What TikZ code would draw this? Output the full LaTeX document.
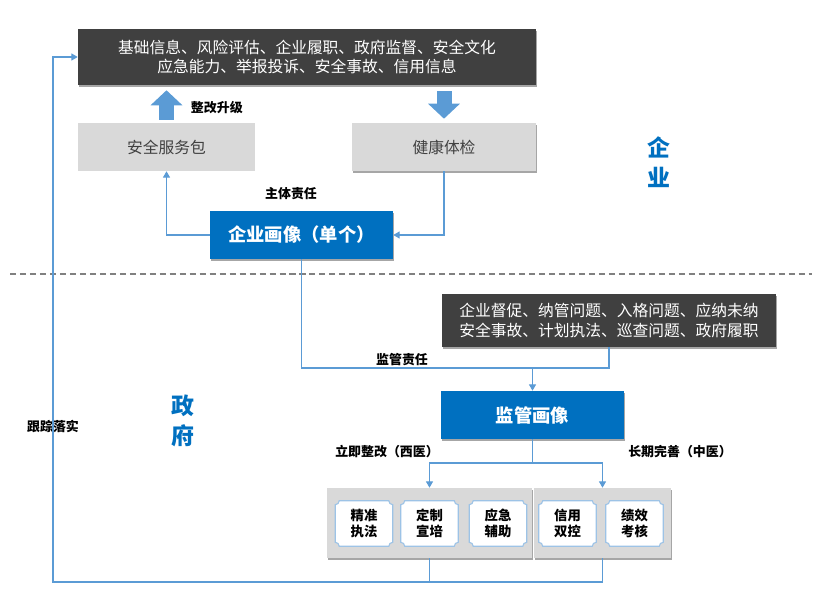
\documentclass[tikz,border=0pt]{standalone}
\usepackage{fontspec}
\setmainfont{Noto Sans CJK SC}
\usepackage{xcolor}
\usetikzlibrary{positioning, arrows.meta, shadows, backgrounds}

\definecolor{boxdark}{HTML}{404040}
\definecolor{boxlight}{HTML}{D9D9D9}
\definecolor{mainblue}{HTML}{0070C0}
\definecolor{lineblue}{HTML}{5B9BD5}
\definecolor{edgeblue}{HTML}{9DC3E6}
\definecolor{rulegray}{HTML}{808080}

\begin{document}
\begin{tikzpicture}[
  font=\fontsize{11.2}{14.2}\selectfont,
  shadowed/.style={drop shadow={shadow xshift=1pt, shadow yshift=-1.5pt, opacity=0.35, fill=black}},
  infobox/.style={fill=boxdark, text=white, inner sep=0, align=center, shadowed},
  greybox/.style={fill=boxlight, text=boxdark, inner sep=0, minimum height=1.2cm},
  bluebox/.style={fill=mainblue, text=white, font=\fontsize{13}{16}\selectfont\bfseries,
                  minimum width=4.575cm, minimum height=1.2cm, inner sep=0, shadowed},
  groupbox/.style={fill=boxlight, minimum height=1.75cm, inner sep=0, shadowed},
  cell/.style={minimum width=1.425cm, minimum height=1.125cm, inner sep=0, align=center,
               font=\fontsize{9.5}{11}\selectfont\bfseries},
  plaque/.style={fill=white, draw=edgeblue, line width=0.8pt},
  tag/.style={font=\fontsize{9.2}{11}\selectfont\bfseries},
  side/.style={text=mainblue, align=center, font=\fontsize{16.3}{21.3}\selectfont\bfseries},
  link/.style={draw=lineblue, line width=0.8pt},
  arr/.style={link, -{Triangle[width=5pt,length=4.5pt]}},
  blockarr/.style={draw=lineblue, line width=0.375cm, -{Triangle[width=0.775cm,length=0.375cm]}}
]
\useasboundingbox (0,0) rectangle (20.575,-14.925);

% enterprise side
\node[infobox, minimum width=11.45cm, minimum height=1.4cm] (info) at (7.675,-1.425)
  {基础信息、风险评估、企业履职、政府监督、安全文化\\应急能力、举报投诉、安全事故、信用信息};
\node[greybox, minimum width=4.425cm] (svc) at (4.1625,-3.675) {安全服务包};
\node[greybox, minimum width=4.6cm, shadowed] (check) at (11.1,-3.675) {健康体检};
\node[bluebox] (ent) at (7.5375,-5.875) {企业画像（单个）};
\node[tag, anchor=west] (upgrade) at (4.65,-2.7) {整改升级};
\node[tag] (duty) at (7.275,-4.85) {主体责任};
\node[side] (entside) at (16.475,-4.05) {企\\业};

\draw[rulegray, line width=0.85pt, dash pattern=on 4.3pt off 2.8pt] (0.25,-6.85) -- (20.3,-6.85);

% government side
\node[infobox, minimum width=8.35cm, minimum height=1.325cm] (issue) at (15.225,-8.0125)
  {企业督促、纳管问题、入格问题、应纳未纳\\安全事故、计划执法、巡查问题、政府履职};
\node[bluebox] (sup) at (13.3125,-10.375) {监管画像};
\node[tag] (supduty) at (10.05,-9.0) {监管责任};
\node[side] (govside) at (4.575,-10.525) {政\\府};
\node[tag] (follow) at (1.325,-10.675) {跟踪落实};
\node[tag] (fix) at (9.675,-11.3) {立即整改（西医）};
\node[tag] (improve) at (17.0,-11.3) {长期完善（中医）};

\node[cell] (law) at (9.1,-13.0875) {精准\\执法};
\node[cell] (train) at (10.7375,-13.0875) {定制\\宣培};
\node[cell] (aid) at (12.45,-13.0875) {应急\\辅助};
\node[cell] (credit) at (14.1875,-13.0875) {信用\\双控};
\node[cell] (perf) at (15.8625,-13.0875) {绩效\\考核};

\begin{scope}[on background layer]
  \node[groupbox, minimum width=5.125cm] (left) at (10.7375,-13.075) {};
  \node[groupbox, minimum width=3.425cm] (right) at (15.0625,-13.075) {};
  \foreach \p in {law,train,aid,credit,perf}
    \draw[plaque] ([xshift=0.1cm]\p.south west) -- ([xshift=-0.1cm]\p.south east)
      arc[start angle=180, end angle=90, radius=0.1cm] -- ([yshift=-0.1cm]\p.north east)
      arc[start angle=270, end angle=180, radius=0.1cm] -- ([xshift=0.1cm]\p.north west)
      arc[start angle=0, end angle=-90, radius=0.1cm] -- ([yshift=0.1cm]\p.south west)
      arc[start angle=90, end angle=0, radius=0.1cm] -- cycle;
\end{scope}

% connectors
\draw[blockarr, shorten <=0.075cm, shorten >=0.125cm] (svc.north) -- (svc.north |- info.south);
\draw[blockarr, shorten <=0.15cm, shorten >=0.1cm] (check.north |- info.south) -- (check.north);
\draw[arr] (ent.west) -| (svc.south);
\draw[arr] (check.south) |- (ent.east);

\coordinate (join) at (13.3125,-9.2);
\draw[link] (ent.south) |- (join);
\draw[link] (issue.south) |- (join);
\draw[arr] (join) -- (sup.north);

\coordinate (split) at (13.3125,-11.575);
\draw[arr] (sup.south) -- (split) -| (left.north);
\draw[arr] (split) -| (right.north);

\coordinate (back) at (1.325,-14.55);
\draw[link] (left.south) -- (left.south |- back);
\draw[arr] (right.south) |- (back) |- (info.west);
\end{tikzpicture}
\end{document}
